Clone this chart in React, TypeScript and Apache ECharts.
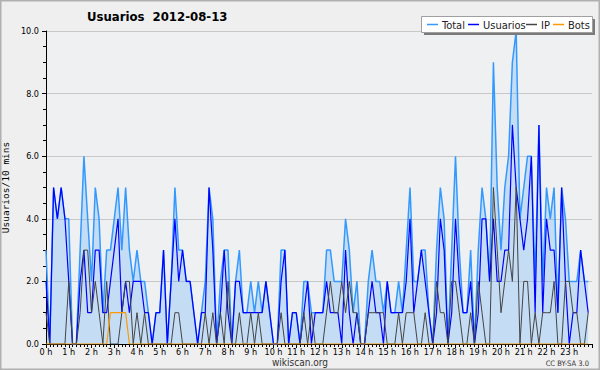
import React, { useEffect, useRef } from 'react';
import * as echarts from 'echarts';

// Tick labels (hours)
const hourLabels = Array.from({ length: 24 }, (_, h) => `${h} h`);

// Values per 10-minute slot (144 slots, 0:00 .. 23:50)
const total = [
  3, 0, 5, 4, 5, 4, 4, 0, 0, 3,
  6, 4, 2, 5, 4, 1, 3, 3, 4, 5,
  3, 5, 3, 2, 3, 2, 2, 1, 0, 1,
  1, 3, 0, 2, 5, 3, 3, 2, 2, 1,
  0, 1, 2, 5, 4, 0, 2, 3, 3, 0,
  2, 3, 1, 1, 2, 1, 2, 1, 2, 1,
  0, 0, 3, 3, 0, 1, 1, 0, 2, 2,
  1, 1, 1, 1, 3, 3, 2, 2, 2, 4,
  3, 1, 2, 0, 0, 2, 3, 2, 2, 1,
  2, 1, 1, 2, 1, 3, 5, 2, 2, 3,
  3, 1, 0, 3, 5, 4, 0, 3, 6, 3,
  1, 1, 3, 0, 3, 5, 4, 2, 9, 5,
  3, 5, 6, 9, 10, 4, 5, 6, 6, 2,
  7, 2, 5, 4, 5, 1, 5, 4, 2, 2,
  2, 3, 2, 2,
];
const usuarios = [
  2, 0, 5, 4, 5, 4, 2, 0, 0, 2,
  3, 1, 1, 3, 3, 1, 1, 2, 3, 4,
  1, 2, 1, 2, 2, 2, 1, 1, 0, 1,
  1, 3, 0, 2, 4, 2, 3, 2, 2, 1,
  0, 1, 1, 5, 3, 0, 1, 3, 1, 0,
  2, 2, 1, 1, 1, 1, 1, 1, 2, 1,
  0, 0, 2, 3, 0, 1, 1, 0, 1, 2,
  0, 1, 1, 1, 2, 1, 1, 1, 0, 3,
  1, 0, 1, 0, 0, 1, 2, 1, 1, 0,
  2, 1, 1, 1, 1, 2, 4, 1, 2, 3,
  2, 1, 0, 1, 4, 3, 0, 1, 4, 2,
  1, 1, 2, 0, 1, 4, 4, 2, 4, 2,
  2, 3, 3, 7, 5, 4, 3, 4, 6, 1,
  7, 1, 4, 3, 3, 1, 5, 2, 0, 1,
  1, 3, 2, 1,
];
const ip = [
  1, 0, 0, 0, 0, 0, 2, 0, 0, 1,
  3, 3, 1, 2, 1, 0, 2, 0, 0, 0,
  1, 2, 2, 0, 1, 0, 1, 0, 0, 0,
  0, 0, 0, 0, 1, 1, 0, 0, 0, 0,
  0, 0, 1, 0, 1, 0, 1, 0, 2, 0,
  0, 1, 0, 0, 1, 0, 1, 0, 0, 0,
  0, 0, 1, 0, 0, 0, 0, 0, 1, 0,
  1, 0, 0, 0, 1, 2, 1, 1, 2, 1,
  2, 1, 1, 0, 0, 1, 1, 1, 1, 1,
  0, 0, 0, 1, 0, 1, 1, 1, 0, 0,
  1, 0, 0, 2, 1, 1, 0, 2, 2, 1,
  0, 0, 1, 0, 2, 1, 0, 0, 5, 3,
  1, 2, 3, 2, 5, 0, 2, 2, 0, 1,
  0, 1, 1, 1, 2, 0, 0, 2, 2, 1,
  1, 0, 0, 1,
];
const bots = [
  0, 0, 0, 0, 0, 0, 0, 0, 0, 0,
  0, 0, 0, 0, 0, 0, 0, 1, 1, 1,
  1, 1, 0, 0, 0, 0, 0, 0, 0, 0,
  0, 0, 0, 0, 0, 0, 0, 0, 0, 0,
  0, 0, 0, 0, 0, 0, 0, 0, 0, 0,
  0, 0, 0, 0, 0, 0, 0, 0, 0, 0,
  0, 0, 0, 0, 0, 0, 0, 0, 0, 0,
  0, 0, 0, 0, 0, 0, 0, 0, 0, 0,
  0, 0, 0, 0, 0, 0, 0, 0, 0, 0,
  0, 0, 0, 0, 0, 0, 0, 0, 0, 0,
  0, 0, 0, 0, 0, 0, 0, 0, 0, 0,
  0, 0, 0, 0, 0, 0, 0, 0, 0, 0,
  0, 0, 0, 0, 0, 0, 0, 0, 0, 0,
  0, 0, 0, 0, 0, 0, 0, 0, 0, 0,
  0, 0, 0, 0,
];

const FONT = '"DejaVu Sans Condensed", "DejaVu Sans", sans-serif';
const toXY = (arr: number[]) => arr.map((v, i) => [i / 6, v]);

const C_TOTAL = '#3399ff';
const C_USU = '#0000ff';
const C_IP = '#444444';
const C_BOTS = '#ff9900';

export default function App() {
  const ref = useRef<HTMLDivElement>(null);
  useEffect(() => {
    if (!ref.current) return;
    const chart = echarts.init(ref.current, undefined, { renderer: 'svg' });
    const legendItems = [
      { name: 'Total', color: C_TOTAL, x: 427, tx: 442 },
      { name: 'Usuarios', color: C_USU, x: 468, tx: 483 },
      { name: 'IP', color: C_IP, x: 526, tx: 541 },
      { name: 'Bots', color: C_BOTS, x: 553, tx: 568 },
    ];
    const legendGraphics: any[] = [
      { type: 'rect', shape: { x: 424, y: 19, width: 171, height: 16 }, style: { fill: '#7a7a7a' }, z: 50 },
      { type: 'rect', shape: { x: 421.5, y: 16.5, width: 171, height: 16 }, style: { fill: '#ffffff', stroke: '#a0a0a0', lineWidth: 1 }, z: 51 },
    ];
    legendItems.forEach((it) => {
      legendGraphics.push({
        type: 'line', shape: { x1: it.x, y1: 24.5, x2: it.x + 11, y2: 24.5 },
        style: { stroke: it.color, lineWidth: 1.5 }, z: 52,
      });
      legendGraphics.push({
        type: 'text', x: it.tx, y: 25,
        style: { text: it.name, fontFamily: FONT, fontSize: 11, fill: '#222', align: 'left', verticalAlign: 'middle' },
        z: 52,
      });
    });

    chart.setOption({
      animation: false,
      backgroundColor: '#efefef',
      title: {
        text: 'Usuarios  2012-08-13',
        left: 82,
        top: 5,
        padding: 5,
        textStyle: { fontFamily: FONT, fontSize: 13, fontWeight: 'bold', color: '#000' },
      },
      grid: {
        left: 46, right: 8, top: 31, bottom: 26,
        show: true, backgroundColor: '#eef0f2', borderWidth: 0,
        outerBoundsMode: 'none',
        containLabel: false,
      },
      xAxis: {
        type: 'value', min: 0, max: 24, interval: 1, z: 3,
        axisLine: { show: true, onZero: false, lineStyle: { color: '#000', width: 1 } },
        axisTick: { show: true, length: 4, lineStyle: { color: '#000' } },
        minorTick: { show: true, splitNumber: 6, length: 3, lineStyle: { color: '#000' } },
        splitLine: { show: false },
        axisLabel: {
          formatter: (v: number) => (v < 24 ? hourLabels[v] : ''),
          fontSize: 9, color: '#000', margin: 3, fontFamily: FONT,
        },
      },
      yAxis: {
        type: 'value', min: 0, max: 10, interval: 2, z: 3,
        axisLine: { show: true, lineStyle: { color: '#000', width: 1 } },
        axisTick: { show: true, length: 4, lineStyle: { color: '#000' } },
        minorTick: { show: true, splitNumber: 4, length: 3, lineStyle: { color: '#000' } },
        splitLine: { show: true, lineStyle: { color: '#c8c8c8', width: 1 } },
        axisLabel: {
          formatter: (v: number) => v.toFixed(1),
          fontSize: 9, color: '#000', margin: 7, fontFamily: FONT,
        },
        name: 'Usuarios/10 mins',
        nameLocation: 'middle',
        nameGap: 36,
        nameRotate: 90,
        nameTextStyle: { fontFamily: '"DejaVu Sans Mono", monospace', fontSize: 9.5, color: '#000' },
      },
      series: [
        {
          name: 'Total', type: 'line', data: toXY(total), symbol: 'none',
          lineStyle: { color: C_TOTAL, width: 1.5 }, itemStyle: { color: C_TOTAL },
          areaStyle: { color: C_TOTAL, opacity: 0.22 },
        },
        {
          name: 'Usuarios', type: 'line', data: toXY(usuarios), symbol: 'none',
          lineStyle: { color: C_USU, width: 1.2 }, itemStyle: { color: C_USU },
        },
        {
          name: 'IP', type: 'line', data: toXY(ip), symbol: 'none',
          lineStyle: { color: C_IP, width: 1 }, itemStyle: { color: C_IP },
        },
        {
          name: 'Bots', type: 'line', data: toXY(bots), symbol: 'none',
          lineStyle: { color: C_BOTS, width: 1.2 }, itemStyle: { color: C_BOTS },
        },
      ],
      graphic: [
        ...legendGraphics,
        {
          type: 'text', x: 300, y: 362,
          style: { text: 'wikiscan.org', fontFamily: FONT, fontSize: 10, fill: '#333', align: 'center', verticalAlign: 'middle' },
        },
        {
          type: 'text', x: 589, y: 363,
          style: { text: 'CC BY-SA 3.0', fontFamily: FONT, fontSize: 7.5, fill: '#333', align: 'right', verticalAlign: 'middle' },
        },
        {
          type: 'rect', shape: { x: 0.75, y: 0.75, width: 598.5, height: 368.5 },
          style: { fill: 'none', stroke: '#b0b0b0', lineWidth: 1.5 }, z: 100,
        },
      ],
    });
    return () => chart.dispose();
  }, []);
  return <div ref={ref} style={{ position: 'fixed', left: 0, top: 0, width: 600, height: 370 }} />;
}
